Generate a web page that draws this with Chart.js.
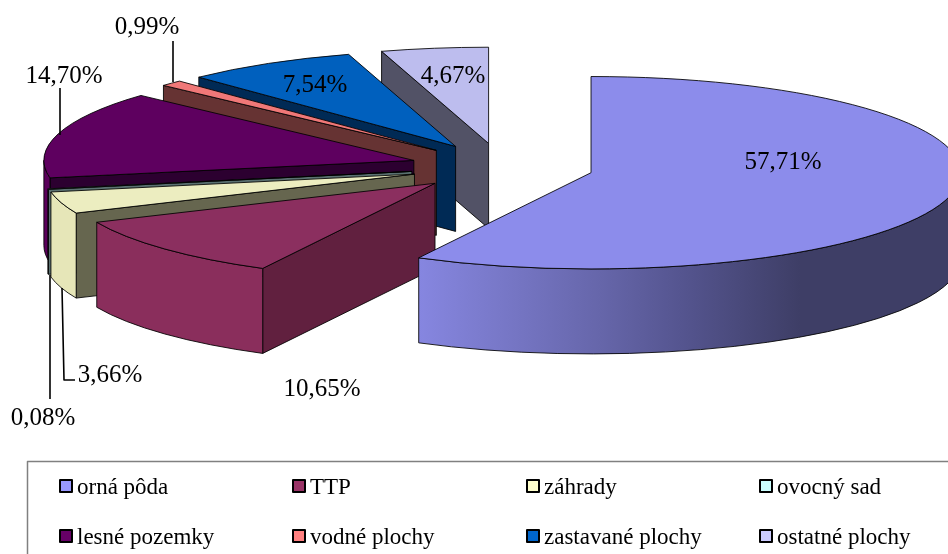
<!DOCTYPE html>
<html>
<head>
<meta charset="utf-8">
<style>html,body{margin:0;padding:0;background:#fff}canvas{display:block}</style>
<script src="https://cdn.jsdelivr.net/npm/chart.js@4/dist/chart.umd.min.js"></script>
</head>
<body>
<canvas id="c" width="948" height="554" style="width:948px;height:554px"></canvas>
<script>
const categories = ['orná pôda','TTP','záhrady','ovocný sad','lesné pozemky','vodné plochy','zastavané plochy','ostatné plochy'];
const shares = [57.71,10.65,3.66,0.08,14.70,0.99,7.54,4.67];
const legendColors = ['#9999FF','#993366','#FFFFCC','#CCFFFF','#660066','#FF8080','#0066CC','#CCCCFF'];
const topColors = ['#8C8CEB','#8B2F5F','#ECEDC0','#BCE8E8','#5E005F','#F07878','#0060BE','#BDBDEE'];
const sideColors = ['#52528A','#61203F','#66664F','#5A7070','#2C0030','#663333','#002A55','#525266'];
const rimColors = ['#8686E0','#8A2E5C','#E6E6B8','#607878','#5A005A','#663333','#002A55','#525266'];
const rimStops = [[419,'#8686E0'],[500,'#7878C8'],[600,'#6666AA'],[680,'#555590'],[800,'#3E3E66'],[948,'#3E3E66']];
const paintOrder = [7,6,5,4,3,2,1,0];
const pieRadius = 370, flatten = 0.26, pieDepth = 85, explode = 91.7;
const labelFont = '25px "Liberation Serif"', legendFont = '23px "Liberation Serif"';
const labelSpots = [[783,162],[322,389],[110,375],[43,418],[64,76],[147,27],[315,85],[453,76]];
const leaderLines = [
  [[173,41],[173,82]],
  [[60,88],[60,135]],
  [[62,288],[64,380],[75,380]],
  [[50,275],[50,399]]
];
const legendBox = {left:27.5, top:461.5};
const legendCols = [59,292,526,759];
const legendRows = [486,536];
const pctText = v => v.toFixed(2).replace('.', ',') + '%';

const pie3d = {
  id: 'pie3d',
  beforeDatasetsDraw(chart) {
    const ctx = chart.ctx;
    const arcs = chart.getDatasetMeta(0).data;
    paintOrder.forEach(i => {
      const arc = arcs[i];
      const {startAngle: a0, endAngle: a1, x, y} = arc;
      const mid = (a0 + a1) / 2;
      const ax = x + Math.cos(mid) * explode;
      const ay = y + Math.sin(mid) * explode * flatten;
      const rx = pieRadius, ry = pieRadius * flatten;
      const outline = () => {
        ctx.strokeStyle = 'rgba(0,0,0,.85)';
        ctx.lineWidth = 1;
        ctx.lineJoin = 'round';
        ctx.stroke();
      };
      const side = a => {
        const px = ax + Math.cos(a) * rx, py = ay + Math.sin(a) * ry;
        ctx.beginPath();
        ctx.moveTo(ax, ay);
        ctx.lineTo(px, py);
        ctx.lineTo(px, py + pieDepth);
        ctx.lineTo(ax, ay + pieDepth);
        ctx.closePath();
        ctx.fillStyle = sideColors[i];
        ctx.fill();
        outline();
      };
      if (Math.cos(a0) < -1e-6) side(a0);
      if (Math.cos(a1) > 1e-6) side(a1);
      const f0 = Math.max(a0, 0), f1 = Math.min(a1, Math.PI);
      if (f1 > f0) {
        ctx.beginPath();
        ctx.ellipse(ax, ay, rx, ry, 0, f0, f1);
        ctx.ellipse(ax, ay + pieDepth, rx, ry, 0, f1, f0, true);
        ctx.closePath();
        if (i === 0) {
          const g = ctx.createLinearGradient(rimStops[0][0], 0, rimStops[rimStops.length-1][0], 0);
          const span = rimStops[rimStops.length-1][0] - rimStops[0][0];
          rimStops.forEach(s => g.addColorStop((s[0]-rimStops[0][0])/span, s[1]));
          ctx.fillStyle = g;
        } else {
          ctx.fillStyle = rimColors[i];
        }
        ctx.fill();
        outline();
      }
      ctx.save();
      ctx.translate(ax, ay);
      ctx.scale(1, flatten);
      ctx.translate(-x, -y);
      arc.draw(ctx);
      ctx.restore();
      ctx.beginPath();
      ctx.moveTo(ax, ay);
      ctx.ellipse(ax, ay, rx, ry, 0, a0, a1);
      ctx.closePath();
      outline();
    });
    return false;
  },
  afterDraw(chart) {
    const ctx = chart.ctx;
    ctx.save();
    ctx.strokeStyle = '#000';
    ctx.lineWidth = 1.6;
    leaderLines.forEach(l => {
      ctx.beginPath();
      l.forEach((p, k) => k ? ctx.lineTo(p[0], p[1]) : ctx.moveTo(p[0], p[1]));
      ctx.stroke();
    });
    ctx.fillStyle = '#000';
    ctx.font = labelFont;
    ctx.textAlign = 'center';
    ctx.textBaseline = 'middle';
    shares.forEach((v, i) => ctx.fillText(pctText(v), labelSpots[i][0], labelSpots[i][1]));
    ctx.strokeStyle = '#808080';
    ctx.lineWidth = 1.5;
    ctx.beginPath();
    ctx.moveTo(legendBox.left, chart.height + 2);
    ctx.lineTo(legendBox.left, legendBox.top);
    ctx.lineTo(chart.width + 2, legendBox.top);
    ctx.stroke();
    ctx.font = legendFont;
    ctx.textAlign = 'left';
    categories.forEach((name, i) => {
      const cx = legendCols[i % 4], cy = legendRows[Math.floor(i / 4)];
      ctx.fillStyle = legendColors[i];
      ctx.strokeStyle = '#000';
      ctx.lineWidth = 2;
      ctx.fillRect(cx + 1, cy - 6, 12, 12);
      ctx.strokeRect(cx + 1, cy - 6, 12, 12);
      ctx.fillStyle = '#000';
      ctx.fillText(name, cx + 18, cy + 2);
    });
    ctx.restore();
  }
};

new Chart(document.getElementById('c'), {
  type: 'pie',
  data: {
    labels: categories,
    datasets: [{data: shares, backgroundColor: topColors, borderWidth: 0}]
  },
  options: {
    responsive: false,
    animation: false,
    radius: pieRadius,
    layout: {padding: {left: 56, bottom: 220}},
    plugins: {legend: {display: false}, tooltip: {enabled: false}}
  },
  plugins: [pie3d]
});
</script>
</body>
</html>
